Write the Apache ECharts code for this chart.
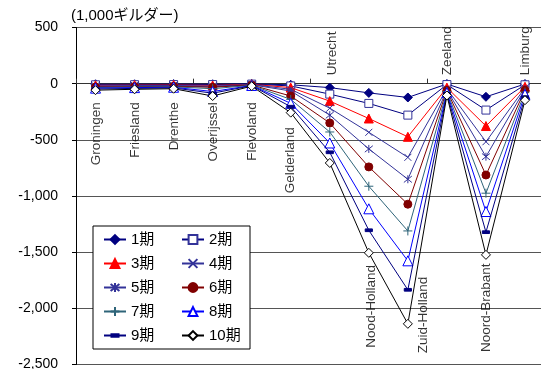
<!DOCTYPE html>
<html>
<head>
<meta charset="utf-8">
<script src="https://cdn.jsdelivr.net/npm/echarts@6/dist/echarts.min.js"></script>
<style>
  html, body { margin: 0; padding: 0; background: #fff; }
  #chart { width: 541px; height: 369px; }
</style>
</head>
<body>
<div id="chart"></div>
<script>
// Provinces (x categories)
const categories = ['Groningen', 'Friesland', 'Drenthe', 'Overijssel', 'Flevoland', 'Gelderland',
  'Utrecht', 'Nood-Holland', 'Zuid-Holland', 'Zeeland', 'Noord-Brabant', 'Limburg'];

// Values per period, in 1,000 guilders
const period1  = [-5, -5, -4, -5, -2, -10, -35, -82, -123, -3, -117, -3];
const period2  = [-10, -9, -8, -8, -4, -20, -93, -176, -280, -8, -235, -10];
const period3  = [-15, -13, -12, -16, -6, -35, -155, -310, -473, -35, -377, -28];
const period4  = [-20, -17, -16, -22, -8, -50, -218, -433, -656, -45, -517, -38];
const period5  = [-25, -21, -20, -28, -10, -65, -280, -581, -851, -55, -650, -48];
const period6  = [-30, -26, -24, -32, -12, -110, -350, -741, -1073, -60, -813, -58];
const period7  = [-35, -30, -28, -45, -14, -140, -430, -913, -1311, -70, -975, -75];
const period8  = [-40, -35, -32, -70, -16, -175, -528, -1114, -1577, -80, -1138, -95];
const period9  = [-48, -42, -38, -85, -18, -205, -611, -1305, -1835, -90, -1322, -120];
const period10 = [-58, -50, -45, -110, -22, -258, -706, -1506, -2138, -105, -1524, -147];

const seriesNames = ['1期', '2期', '3期', '4期', '5期', '6期', '7期', '8期', '9期', '10期'];

// Value axis range and tick step
const yMin = -2500;
const yMax = 500;
const yStep = 500;

const axisTitle = '(1,000ギルダー)';

// ---------------------------------------------------------------
const FONT = "'Liberation Sans', Arial, 'Noto Sans CJK JP', sans-serif";
const values = [period1, period2, period3, period4, period5, period6, period7, period8, period9, period10];

const CROSS = 'path://M0,0L10,10M10,0L0,10';
const STAR  = 'path://M1,1L9,9M9,1L1,9M5,0L5,10';
const PLUS  = 'path://M5,0L5,10M0,5L10,5';
// short horizontal bar inside a square 10x10 box
const DASH  = 'path://M0,0M10,10M1,3.5L9,3.5L9,6.5L1,6.5Z';

// line colour, marker shape, marker size, marker fill, marker outline
const looks = [
  { line: '#000080', symbol: 'diamond',  size: 9,  fill: '#000080', edge: '#000080' },
  { line: '#000080', symbol: 'rect',     size: 8,  fill: '#ffffff', edge: '#333399' },
  { line: '#ff0000', symbol: 'triangle', size: 9,  fill: '#ff0000', edge: '#ff0000' },
  { line: '#333399', symbol: CROSS,      size: 7,  fill: 'rgba(0,0,0,0)', edge: '#333399' },
  { line: '#333399', symbol: STAR,       size: 8,  fill: 'rgba(0,0,0,0)', edge: '#333399' },
  { line: '#800000', symbol: 'circle',   size: 8,  fill: '#800000', edge: '#800000' },
  { line: '#2e6479', symbol: PLUS,       size: 9,  fill: 'rgba(0,0,0,0)', edge: '#2e6479' },
  { line: '#0000ff', symbol: 'triangle', size: 10, fill: '#ffffff', edge: '#0000ff' },
  { line: '#000080', symbol: DASH,       size: 9,  fill: '#000080', edge: '#000080' },
  { line: '#000000', symbol: 'diamond',  size: 9,  fill: '#ffffff', edge: '#000000' }
];

const lineSeries = values.map((vals, k) => ({
  name: seriesNames[k],
  type: 'line',
  data: vals,
  symbol: looks[k].symbol,
  symbolSize: looks[k].size,
  showSymbol: true,
  showAllSymbol: true,
  lineStyle: { color: looks[k].line, width: 1 },
  itemStyle: { color: looks[k].fill, borderColor: looks[k].edge, borderWidth: 1 },
  emphasis: { disabled: true },
  z: 2 + k
}));

// Province names are drawn as vertical text next to the lines;
// anchor value is the top end (align right) or bottom end (align left) of the text.
const nameAnchor = [
  { v: -165, align: 'right', dx: 1 },
  { v: -165, align: 'right', dx: 1 },
  { v: -165, align: 'right', dx: 1 },
  { v: -165, align: 'right', dx: 1 },
  { v: -165, align: 'right', dx: 1 },
  { v: -387, align: 'right', dx: 0 },
  { v: 76,   align: 'left',  dx: 3 },
  { v: -1615, align: 'right', dx: 2 },
  { v: -1719, align: 'right', dx: 15 },
  { v: 76,   align: 'left',  dx: 0 },
  { v: -1600, align: 'right', dx: 0 },
  { v: 76,   align: 'left',  dx: 0 }
];

const nameSeries = {
  type: 'scatter',
  silent: true,
  symbolSize: 1,
  itemStyle: { color: 'rgba(0,0,0,0)' },
  z: 20,
  data: categories.map((c, i) => ({
    name: c,
    value: [c, nameAnchor[i].v],
    label: {
      align: nameAnchor[i].align,
      offset: [0, nameAnchor[i].dx]
    }
  })),
  label: {
    show: true,
    position: 'inside',
    rotate: 90,
    verticalAlign: 'middle',
    color: '#000',
    fontSize: 13.5,
    fontFamily: FONT,
    formatter: p => p.name
  }
};

const fmt = v => (v < 0 ? '-' : '') + String(Math.abs(v)).replace(/\B(?=(\d{3})+(?!\d))/g, ',');

const chart = echarts.init(document.getElementById('chart'), null, { renderer: 'canvas' });
chart.setOption({
  animation: false,
  backgroundColor: '#ffffff',
  title: {
    text: axisTitle,
    left: 71,
    top: 8,
    padding: 0,
    textStyle: { fontSize: 15, fontWeight: 'normal', color: '#000', fontFamily: FONT }
  },
  grid: { left: 76, right: -3.5, top: 27.5, bottom: 4.5, containLabel: false, outerBoundsMode: 'none' },
  xAxis: {
    type: 'category',
    data: categories,
    boundaryGap: true,
    axisLine: { onZero: true, lineStyle: { color: '#333', width: 1 } },
    axisTick: { show: true, inside: true, length: 5, lineStyle: { color: '#333' } },
    axisLabel: { show: false },
    splitLine: { show: false }
  },
  yAxis: {
    type: 'value',
    min: yMin,
    max: yMax,
    interval: yStep,
    axisLine: { show: true, lineStyle: { color: '#000', width: 1 } },
    axisTick: { show: true, length: 4, lineStyle: { color: '#000' } },
    axisLabel: { fontSize: 14, color: '#000', margin: 18, fontFamily: FONT, formatter: fmt },
    splitLine: { show: true, lineStyle: { color: '#555', width: 1 } }
  },
  legend: {
    data: seriesNames,
    orient: 'horizontal',
    left: 93,
    top: 226,
    width: 160,
    itemWidth: 22,
    itemHeight: 11,
    itemGap: 9,
    padding: [6, 0, 6, 10],
    backgroundColor: '#fff',
    borderColor: '#000',
    borderWidth: 1,
    borderRadius: 0,
    selectedMode: false,
    textStyle: { fontSize: 15, width: 41, lineHeight: 14, color: '#000', fontFamily: FONT }
  },
  series: [...lineSeries, nameSeries]
});
</script>
</body>
</html>
